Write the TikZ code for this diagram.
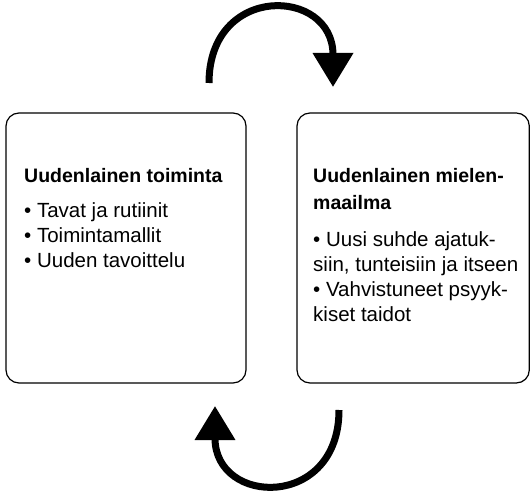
\documentclass[tikz,border=0pt]{standalone}
\usepackage{fontspec}
\setmainfont{Liberation Sans}
\usetikzlibrary{arrows.meta}
\begin{document}
\begin{tikzpicture}[x=1pt,y=1pt,
  panel/.style={draw, line width=1.2pt, rounded corners=13pt, inner sep=0pt, outer sep=0pt},
  ttl/.style={anchor=base west, inner sep=0pt, font=\fontsize{19.5}{23}\selectfont\bfseries},
  itm/.style={anchor=base west, inner sep=0pt, font=\fontsize{20.5}{25}\selectfont},
  cyc/.style={line width=7pt, -{Triangle[length=34pt,width=39pt]}}]
\useasboundingbox (0,0) rectangle (530,493);
\node[panel, minimum width=240pt, minimum height=270pt] (L) at (126,245) {};
\node[panel, minimum width=232.3pt, minimum height=270pt] (R) at (413.15,245) {};
% left text
\node[ttl] (lt) at (24,310) {Uudenlainen toiminta};
\node[itm] (l1) at (24,275) {• Tavat ja rutiinit};
\node[itm] (l2) at (24,250) {• Toimintamallit};
\node[itm] (l3) at (24,225) {• Uuden tavoittelu};
% right text
\node[ttl] (rt1) at (313,310) {Uudenlainen mielen-};
\node[ttl] (rt2) at (313,283) {maailma};
\node[itm] (r1) at (313,246) {• Uusi suhde ajatuk-};
\node[itm] (r2) at (313,221) {siin, tunteisiin ja itseen};
\node[itm] (r3) at (313,196) {• Vahvistuneet psyyk-};
\node[itm] (r4) at (313,171) {kiset taidot};
% cycle arrows
\coordinate (as) at (209,410);
\coordinate (ae) at (333,406);
\coordinate (bs) at (339,83);
\coordinate (be) at (215,87);
\draw[cyc] (as) .. controls (209,510) and (333,506) .. (ae);
\draw[cyc] (bs) .. controls (339,-17) and (215,-13) .. (be);
\end{tikzpicture}
\end{document}
